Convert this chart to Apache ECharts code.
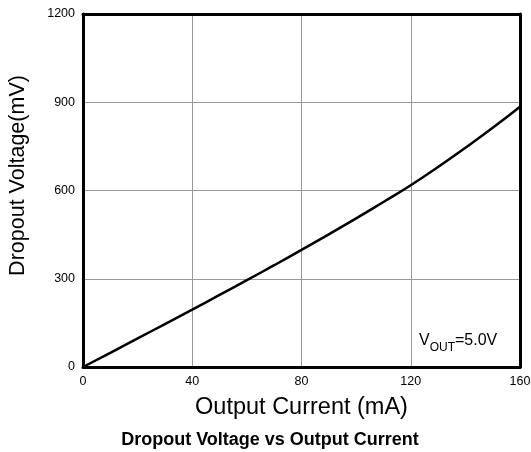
<!DOCTYPE html>
<html><head><meta charset="utf-8">
<script src="https://cdn.jsdelivr.net/npm/echarts@6/dist/echarts.min.js"></script>
<style>html,body{margin:0;padding:0;background:#fff}#c{width:531px;height:452px}</style>
</head><body><div id="c"></div>
<script>
const currents = [0, 10, 20, 30, 40, 50, 60, 70, 80, 90, 100, 110, 120, 130, 140, 150, 160];
const dropout  = [0, 48, 97, 146, 195, 245, 295, 346, 398, 451, 505, 561, 618, 680, 745, 813, 885];
const xTicks = [0, 40, 80, 120, 160];
const yTicks = [0, 300, 600, 900, 1200];
const font = '"Liberation Sans", Arial, sans-serif';
const frameLine = {show: true, onZero: false, lineStyle: {color: '#000', width: 3}};
const xMin = xTicks[0], xMax = xTicks[xTicks.length-1];
const yMin = yTicks[0], yMax = yTicks[yTicks.length-1];
const chart = echarts.init(document.getElementById('c'));
chart.setOption({
  animation: false,
  backgroundColor: '#fff',
  title: {
    text: 'Dropout Voltage vs Output Current',
    left: 265, top: 426, textAlign: 'center',
    textStyle: {fontFamily: font, fontWeight: 'bold', fontSize: 18, color: '#000'}
  },
  grid: {left: 83, top: 14, right: 11, bottom: 85, outerBoundsMode: 'none', containLabel: false},
  xAxis: [{
    type: 'value', min: xMin, max: xMax, interval: 40,
    name: 'Output Current (mA)', nameLocation: 'middle', nameGap: 29,
    nameTextStyle: {fontFamily: font, fontSize: 23.5, color: '#000'},
    axisLine: frameLine, axisTick: {show: false},
    axisLabel: {fontFamily: font, fontSize: 12.5, color: '#000', margin: 8, formatter: v => String(v)},
    splitLine: {show: true, lineStyle: {color: '#999', width: 1}}
  }, {
    type: 'value', position: 'top', min: xMin, max: xMax, interval: 40,
    axisLine: frameLine, axisTick: {show: false}, axisLabel: {show: false}, splitLine: {show: false}
  }],
  yAxis: [{
    type: 'value', min: yMin, max: yMax, interval: 300,
    name: 'Dropout Voltage(mV)', nameLocation: 'middle', nameGap: 54,
    nameTextStyle: {fontFamily: font, fontSize: 21.5, color: '#000', padding: [0, 0, 0, 30]},
    axisLine: frameLine, axisTick: {show: false},
    axisLabel: {fontFamily: font, fontSize: 12.5, color: '#000', margin: 8, formatter: v => String(v)},
    splitLine: {show: true, lineStyle: {color: '#999', width: 1}}
  }, {
    type: 'value', position: 'right', min: yMin, max: yMax, interval: 300,
    axisLine: frameLine, axisTick: {show: false}, axisLabel: {show: false}, splitLine: {show: false}
  }],
  series: [{
    type: 'line', smooth: true, symbol: 'none',
    data: currents.map((c, i) => [c, dropout[i]]),
    lineStyle: {color: '#000', width: 2.5}
  }],
  graphic: [{
    type: 'text', left: 419, top: 333, z: 10,
    style: {
      text: '{v|V}{s|OUT}{v|=5.0V}',
      rich: {
        v: {fontFamily: font, fontSize: 16, fill: '#000', verticalAlign: 'bottom', lineHeight: 18},
        s: {fontFamily: font, fontSize: 12, fill: '#000', verticalAlign: 'bottom', lineHeight: 12, padding: [0,0,-5,0]}
      }
    }
  }]
});
</script></body></html>
